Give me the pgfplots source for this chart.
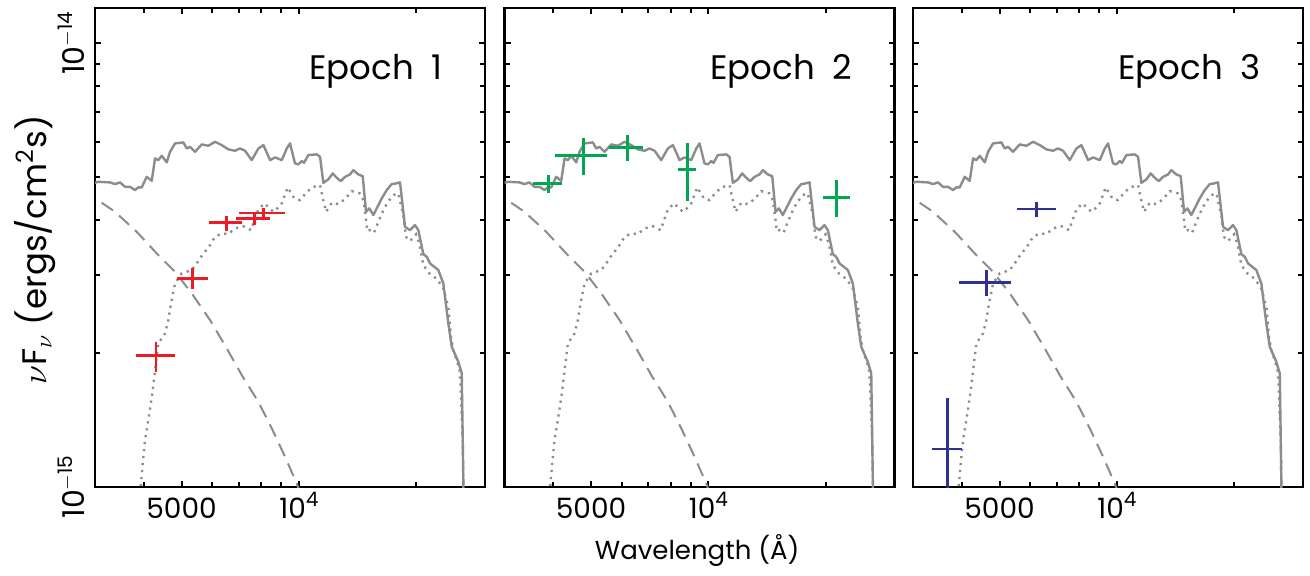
\documentclass[border=0pt]{standalone}
\usepackage{pgfplots}
\pgfplotsset{compat=1.18}
\usepackage{pgfplotstable}
\usepackage{fontspec}
\setmainfont{Poppins}
\definecolor{mgray}{RGB}{140,140,140}
\definecolor{ered}{RGB}{237,28,36}
\definecolor{egreen}{RGB}{0,166,81}
\definecolor{eblue}{RGB}{46,49,146}
\newcommand{\myexp}[2]{\raisebox{#1}{\fontsize{10}{11}\selectfont #2}}

\pgfplotstableread{
lam f
3000 4.848e-15
3059 4.873e-15
3278 4.858e-15
3376 4.815e-15
3477 4.858e-15
3581 4.748e-15
3689 4.748e-15
3799 4.668e-15
3874 4.733e-15
3953 4.733e-15
4071 5.000e-15
4193 4.898e-15
4276 5.502e-15
4360 5.453e-15
4448 5.577e-15
4582 5.390e-15
4672 5.694e-15
4812 5.947e-15
5053 5.978e-15
5156 5.794e-15
5257 5.843e-15
5415 5.694e-15
5634 5.916e-15
5858 5.874e-15
6094 5.997e-15
6340 5.894e-15
6592 5.766e-15
6858 5.724e-15
7063 5.794e-15
7275 5.724e-15
7569 5.453e-15
7871 5.794e-15
8107 5.894e-15
8434 5.453e-15
8686 5.530e-15
9036 5.453e-15
9307 5.794e-15
9487 5.947e-15
9771 5.361e-15
9963 5.333e-15
10165 5.426e-15
10304 5.378e-15
10570 5.597e-15
11108 5.618e-15
11326 5.548e-15
11549 4.848e-15
11895 4.934e-15
12208 5.090e-15
12500 4.975e-15
12797 4.891e-15
13126 5.000e-15
13520 5.063e-15
13786 5.177e-15
14199 5.063e-15
14573 5.018e-15
14861 4.171e-15
15153 4.245e-15
15515 4.101e-15
16304 4.471e-15
16792 4.668e-15
17295 4.815e-15
17740 4.832e-15
18164 4.858e-15
18708 3.858e-15
19268 3.793e-15
19845 3.893e-15
20236 3.793e-15
20842 3.349e-15
21265 3.303e-15
21683 3.191e-15
22772 3.083e-15
23453 2.877e-15
24157 2.338e-15
24646 2.071e-15
25626 1.915e-15
26147 1.804e-15
26302 1.276e-15
26504 0.800e-15
}\solidtab

\pgfplotstableread{
lam f
3913 0.935e-15
3936 1.019e-15
3976 1.131e-15
4030 1.276e-15
4110 1.416e-15
4208 1.626e-15
4258 1.772e-15
4360 2.107e-15
4536 2.220e-15
4625 2.378e-15
4699 2.594e-15
4812 2.877e-15
5006 3.030e-15
5310 3.083e-15
5469 3.191e-15
5610 3.303e-15
5892 3.491e-15
6094 3.664e-15
6340 3.729e-15
6592 3.715e-15
6858 3.826e-15
7190 3.873e-15
7536 3.793e-15
7871 4.222e-15
8155 4.356e-15
8599 4.171e-15
8999 4.318e-15
9362 4.733e-15
9731 4.471e-15
10064 4.432e-15
10365 4.572e-15
10784 4.733e-15
11326 4.790e-15
11481 4.524e-15
11735 4.171e-15
12136 4.370e-15
12619 4.340e-15
13126 4.455e-15
13656 4.643e-15
14341 4.588e-15
14624 4.432e-15
14861 3.995e-15
14975 3.773e-15
15216 3.793e-15
15579 3.740e-15
15980 3.960e-15
16400 4.171e-15
16852 4.370e-15
17459 4.549e-15
17982 4.588e-15
18521 4.101e-15
18819 3.664e-15
19268 3.583e-15
19963 3.710e-15
20356 3.540e-15
20842 3.163e-15
21594 3.030e-15
22464 2.953e-15
23371 2.827e-15
24157 2.548e-15
24545 2.181e-15
24880 2.035e-15
25778 1.851e-15
25961 1.697e-15
26302 1.276e-15
26504 0.800e-15
}\dottab

\pgfplotstableread{
lam f
3121 4.370e-15
3376 4.171e-15
3838 3.760e-15
4319 3.361e-15
4812 3.055e-15
5310 2.732e-15
5917 2.378e-15
6530 2.053e-15
7135 1.788e-15
7871 1.556e-15
8519 1.356e-15
9214 1.170e-15
9869 1.019e-15
10064 0.974e-15
}\bbtab

\pgfplotstableread{
lam f xm xp ym yp
4300 1.976e-15 478 512 1.57e-16 1.42e-16
5341 2.953e-15 462 494 1.64e-16 1.57e-16
6528 3.939e-15 637 631 1.60e-16 1.39e-16
7683 4.021e-15 774 748 1.29e-16 1.15e-16
8103 4.143e-15 1082 1108 0.92e-16 1.02e-16
}\epA

\pgfplotstableread{
lam f xm xp ym yp
3886 4.832e-15 331 320 2.29e-16 2.13e-16
4777 5.576e-15 735 708 5.31e-16 5.27e-16
6193 5.826e-15 622 615 3.92e-16 3.83e-16
8830 5.196e-15 460 461 7.81e-16 7.51e-16
21325 4.484e-15 1618 1746 4.33e-16 4.32e-16
}\epB

\pgfplotstableread{
lam f xm xp ym yp
6227 4.230e-15 674 740 1.66e-16 1.61e-16
4636 2.892e-15 694 705 1.98e-16 1.90e-16
3673 1.218e-15 311 342 4.00e-16 3.71e-16
}\epC

\pgfplotsset{
  every axis/.append style={
    xmode=log, ymode=log, scale only axis,
    width=195pt, height=239.5pt,
    xmin=3000, xmax=30000, ymin=1e-15, ymax=1.2e-14,
    xtick={5000,10000}, xticklabels={5000,10\myexp{6pt}{4}},
    minor xtick={4000,6000,7000,8000,9000,20000},
    ytick={1e-15,1e-14}, yticklabels={,},
    minor ytick={2e-15,3e-15,4e-15,5e-15,6e-15,7e-15,8e-15,9e-15},
    major tick length=3pt, minor tick length=2.5pt,
    tick style={black, line width=1pt},
    axis line style={black, line width=1.2pt},
    tick label style={font=\fontsize{14}{16}\selectfont},
    xticklabel style={anchor=base, inner sep=0pt, yshift=-15.5pt},
  },
}

\begin{document}
\begin{tikzpicture}
\useasboundingbox (0,0) rectangle (655pt,288pt);

\begin{axis}[at={(47.5pt,44.5pt)}, anchor=south west,
  ylabel={$\nu$F$_{\nu}$ (ergs/cm\textsuperscript{2}s)},
  ylabel style={at={(rel axis cs:-0.154,0.495)}, anchor=center, font=\fontsize{17}{20}\selectfont}]
\addplot[mgray, line width=1.2pt, line join=round, mark=none] table[x=lam,y=f] {\solidtab};
\addplot[mgray, line width=1.2pt, dash pattern=on 1.1pt off 2.4pt, mark=none] table[x=lam,y=f] {\dottab};
\addplot[mgray, line width=1pt, dash pattern=on 6.8pt off 4pt, mark=none] table[x=lam,y=f] {\bbtab};
\addplot[ered, mark=none, draw opacity=0,
  error bars/.cd, x dir=both, x explicit, y dir=both, y explicit,
  error mark=none, error bar style={line width=1.4pt, solid, ered, draw opacity=1}]
  table[x=lam,y=f,x error minus=xm,x error plus=xp,y error minus=ym,y error plus=yp] {\epA};
\node[anchor=base east, font=\fontsize{17}{20}\selectfont] at (rel axis cs:0.91,0.85) {Epoch\hspace{9pt}1};
\end{axis}

\begin{axis}[at={(252.25pt,44.5pt)}, anchor=south west,
  xlabel={Wavelength (Å)},
  xlabel style={at={(rel axis cs:0.494,-0.1315)}, anchor=center, font=\fontsize{13}{16}\selectfont}]
\addplot[mgray, line width=1.2pt, line join=round, mark=none] table[x=lam,y=f] {\solidtab};
\addplot[mgray, line width=1.2pt, dash pattern=on 1.1pt off 2.4pt, mark=none] table[x=lam,y=f] {\dottab};
\addplot[mgray, line width=1pt, dash pattern=on 6.8pt off 4pt, mark=none] table[x=lam,y=f] {\bbtab};
\addplot[egreen, mark=none, draw opacity=0,
  error bars/.cd, x dir=both, x explicit, y dir=both, y explicit,
  error mark=none, error bar style={line width=1.4pt, solid, egreen, draw opacity=1}]
  table[x=lam,y=f,x error minus=xm,x error plus=xp,y error minus=ym,y error plus=yp] {\epB};
\node[anchor=base east, font=\fontsize{17}{20}\selectfont] at (rel axis cs:0.91,0.85) {Epoch\hspace{9pt}2};
\end{axis}

\begin{axis}[at={(456.5pt,44.5pt)}, anchor=south west]
\addplot[mgray, line width=1.2pt, line join=round, mark=none] table[x=lam,y=f] {\solidtab};
\addplot[mgray, line width=1.2pt, dash pattern=on 1.1pt off 2.4pt, mark=none] table[x=lam,y=f] {\dottab};
\addplot[mgray, line width=1pt, dash pattern=on 6.8pt off 4pt, mark=none] table[x=lam,y=f] {\bbtab};
\addplot[eblue, mark=none, draw opacity=0,
  error bars/.cd, x dir=both, x explicit, y dir=both, y explicit,
  error mark=none, error bar style={line width=1.4pt, solid, eblue, draw opacity=1}]
  table[x=lam,y=f,x error minus=xm,x error plus=xp,y error minus=ym,y error plus=yp] {\epC};
\node[anchor=base east, font=\fontsize{17}{20}\selectfont] at (rel axis cs:0.91,0.85) {Epoch\hspace{9pt}3};
\end{axis}

% y tick labels of the first panel (10^-15 at the axis bottom, 10^-14 one decade up)
\node[rotate=90, anchor=south, inner sep=0pt, font=\fontsize{15}{18}\selectfont]
  at (42.5pt,44.5pt) {10\myexp{6pt}{$-$15}};
\node[rotate=90, anchor=south, inner sep=0pt, font=\fontsize{15}{18}\selectfont]
  at (42.5pt,266.4pt) {10\myexp{6pt}{$-$14}};
\end{tikzpicture}
\end{document}
